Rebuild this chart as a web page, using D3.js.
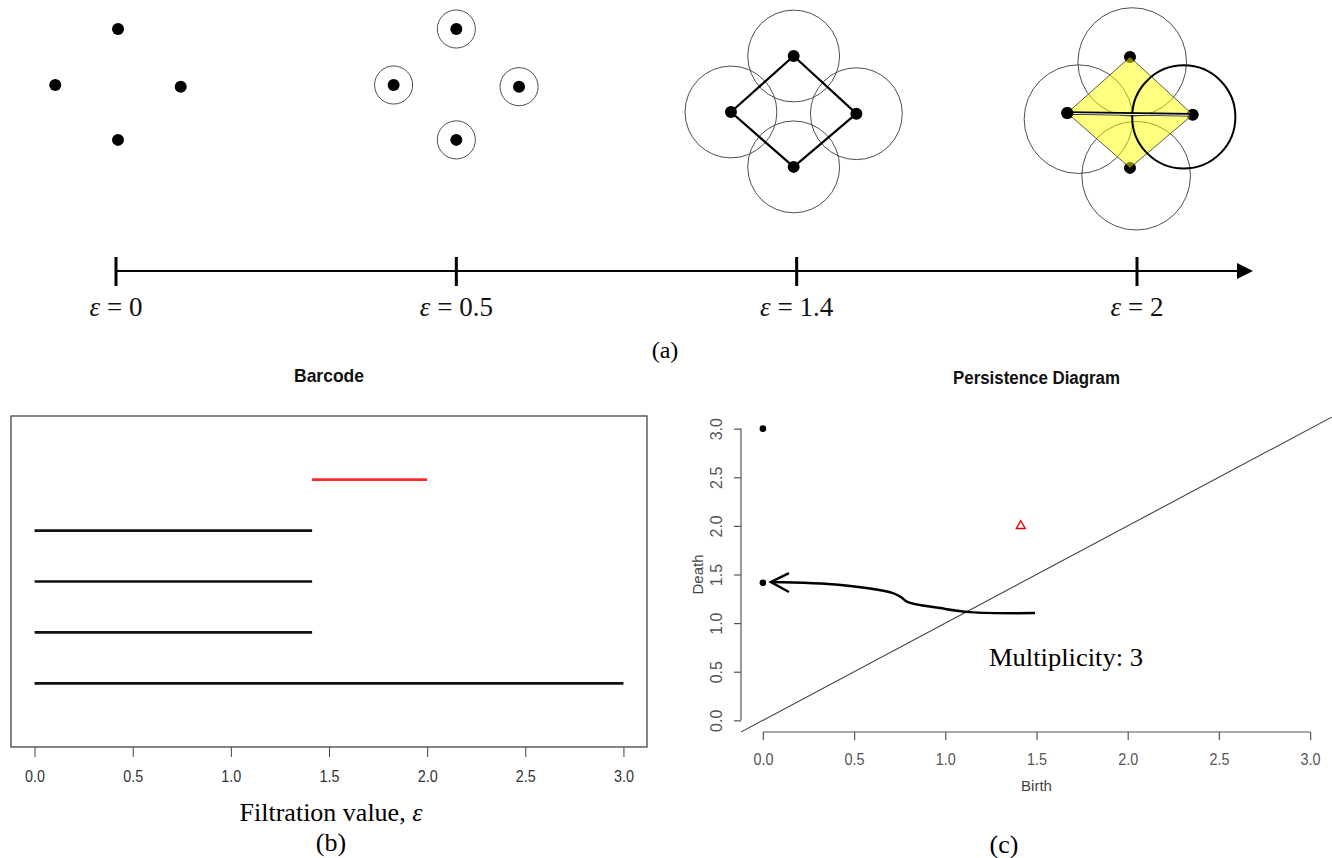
<!DOCTYPE html>
<html>
<head>
<meta charset="utf-8">
<script src="https://cdn.jsdelivr.net/npm/d3@7"></script>
<style>
  body { margin: 0; background: #fff; }
  svg { display: block; }
  .serif { font-family: "Liberation Serif", "Times New Roman", serif; }
  .sans { font-family: "Liberation Sans", Arial, sans-serif; }
</style>
</head>
<body>
<svg id="chart" width="1332" height="858"></svg>
<script>
// ---- (a) filtration of a 4 point cloud ----
const stageLabels = ["0", "0.5", "1.4", "2"];
const ballRadius = [0, 0.34, 0.82, 0.97];          // cloud units
// points: top, left, right, bottom (y up)
const cloudX = [0, -1.12, 1.12, 0];
const cloudY = [1, 0, -0.03, -0.98];
const loopEdges = [[0, 2], [2, 3], [3, 1], [1, 0]];
// at eps = 2 the balls sit a bit off their points
const lastBallShiftX = [0.04, 0.2, -0.16, 0.11];
const lastBallShiftY = [-0.09, -0.11, -0.04, -0.14];

// ---- (b) barcode ----
const barBirth = [0, 0, 0, 0, 1.414];
const barDeath = [3, 1.414, 1.414, 1.414, 2];
const barDim = [0, 0, 0, 0, 1];
const filtrationTicks = [0, 0.5, 1, 1.5, 2, 2.5, 3];

// ---- (c) persistence diagram ----
const pdBirth = [0, 0, 1.414];
const pdDeath = [3, 1.414, 2];
const pdDim = [0, 0, 1];
const pdTicks = [0, 0.5, 1, 1.5, 2, 2.5, 3];
// hand drawn arrow (birth, death)
const arrowBirth = [0.044, 0.428, 0.713, 0.757, 0.795, 0.971, 1.136, 1.492];
const arrowDeath = [1.423, 1.392, 1.309, 1.268, 1.216, 1.155, 1.113, 1.103];
const headBirth = [0.143, 0.044, 0.143];
const headDeath = [1.515, 1.423, 1.32];

const svg = d3.select("#chart");

// =============== (a) ===============
const epsX = d3.scalePoint().domain(stageLabels).range([116, 1137]);
const axisY = 271;
const unit = 56;
const cloudDX = [2, 0, -3, -7];
const cloudCY = [85, 85, 112, 113];
const ux = d3.scaleLinear().domain([-1, 1]).range([-unit, unit]);
const uy = d3.scaleLinear().domain([-1, 1]).range([unit, -unit]);
const pts = cloudX.map((x, k) => ({ x: x, y: cloudY[k] }));

stageLabels.forEach((lab, i) => {
  const g = svg.append("g")
    .attr("transform", `translate(${epsX(lab) + cloudDX[i]},${cloudCY[i]})`);
  const r = ballRadius[i] * unit;
  const last = i === stageLabels.length - 1;

  // balls (the bold one at eps=2 goes on top later)
  if (r > 0) {
    g.selectAll("circle.ball")
      .data(pts.filter((d, k) => !(last && k === 2)))
      .join("circle")
      .attr("class", "ball")
      .attr("cx", d => { const k = pts.indexOf(d); return ux(d.x + (last ? lastBallShiftX[k] : 0)); })
      .attr("cy", d => { const k = pts.indexOf(d); return uy(d.y + (last ? lastBallShiftY[k] : 0)); })
      .attr("r", r)
      .attr("fill", "none")
      .attr("stroke", "#3a3a3a")
      .attr("stroke-width", 0.9);
  }

  if (i === 2) {
    g.selectAll("line.edge").data(loopEdges).join("line")
      .attr("x1", e => ux(pts[e[0]].x)).attr("y1", e => uy(pts[e[0]].y))
      .attr("x2", e => ux(pts[e[1]].x)).attr("y2", e => uy(pts[e[1]].y))
      .attr("stroke", "#000").attr("stroke-width", 2.2);
  }

  g.selectAll("circle.pt").data(pts).join("circle")
    .attr("class", "pt")
    .attr("cx", d => ux(d.x)).attr("cy", d => uy(d.y))
    .attr("r", 6).attr("fill", "#000");

  if (last) {
    const order = [0, 2, 3, 1];
    g.append("polygon")
      .attr("points", order.map(k => [ux(pts[k].x), uy(pts[k].y)].join(",")).join(" "))
      .attr("fill", "rgb(255,255,0)").attr("fill-opacity", 0.5)
      .attr("stroke", "#333").attr("stroke-width", 0.8);
    g.append("circle")
      .attr("cx", ux(pts[1].x)).attr("cy", uy(pts[1].y)).attr("r", 6).attr("fill", "#000");
    const bold = 2;
    g.append("circle")
      .attr("cx", ux(pts[bold].x + lastBallShiftX[bold]))
      .attr("cy", uy(pts[bold].y + lastBallShiftY[bold]))
      .attr("r", r * 0.95)
      .attr("fill", "none").attr("stroke", "#000").attr("stroke-width", 2);
    g.append("line")
      .attr("x1", ux(pts[1].x)).attr("y1", uy(pts[1].y))
      .attr("x2", ux(pts[2].x)).attr("y2", uy(pts[2].y))
      .attr("stroke", "#000").attr("stroke-width", 3.4);
    g.append("line")
      .attr("x1", ux(pts[1].x) + 6).attr("y1", uy(pts[1].y) + 0.6)
      .attr("x2", ux(pts[2].x) - 4).attr("y2", uy(pts[2].y) + 0.6)
      .attr("stroke", "#fff").attr("stroke-width", 1);
  }
});

// filtration axis with arrow
const arrowEnd = epsX(stageLabels[stageLabels.length - 1]) + 116;
svg.append("line")
  .attr("x1", epsX.range()[0]).attr("x2", arrowEnd - 10)
  .attr("y1", axisY).attr("y2", axisY)
  .attr("stroke", "#000").attr("stroke-width", 2);
svg.append("path")
  .attr("d", `M${arrowEnd - 16},${axisY - 8} L${arrowEnd},${axisY} L${arrowEnd - 16},${axisY + 8} Z`)
  .attr("fill", "#000");
svg.selectAll("line.epsTick").data(stageLabels).join("line")
  .attr("class", "epsTick")
  .attr("x1", d => epsX(d)).attr("x2", d => epsX(d))
  .attr("y1", axisY - 14).attr("y2", axisY + 15)
  .attr("stroke", "#000").attr("stroke-width", 3);
const epsText = svg.selectAll("text.epsLab").data(stageLabels).join("text")
  .attr("class", "epsLab serif")
  .attr("x", d => epsX(d)).attr("y", 316)
  .attr("text-anchor", "middle")
  .attr("font-size", 27)
  .attr("fill", "#111");
epsText.append("tspan").attr("font-style", "italic").text("ε");
epsText.append("tspan").text(d => " = " + d);

svg.append("text").attr("class", "serif")
  .attr("x", 665).attr("y", 358).attr("text-anchor", "middle")
  .attr("font-size", 24).text("(a)");

// =============== (b) barcode ===============
const bx = d3.scaleLinear().domain([-0.12, 3.12]).range([11, 647]);
const by = d3.scaleLinear().domain([-1.25, 5.25]).range([747, 416]);

svg.append("rect")
  .attr("x", bx.range()[0]).attr("y", by.range()[1])
  .attr("width", bx.range()[1] - bx.range()[0])
  .attr("height", by.range()[0] - by.range()[1])
  .attr("fill", "none").attr("stroke", "#444").attr("stroke-width", 1.3);

svg.selectAll("line.bar").data(barBirth).join("line")
  .attr("class", "bar")
  .attr("x1", d => bx(d))
  .attr("x2", (d, i) => bx(barDeath[i]))
  .attr("y1", (d, i) => by(i)).attr("y2", (d, i) => by(i))
  .attr("stroke", (d, i) => barDim[i] === 1 ? "#ff2a2a" : "#111")
  .attr("stroke-width", 2.6);

const bAxis = svg.append("g")
  .attr("transform", `translate(0,${by.range()[0]})`)
  .call(d3.axisBottom(bx).tickValues(filtrationTicks)
    .tickFormat(d3.format(".1f")).tickSize(10).tickPadding(14));
bAxis.select(".domain").remove();
bAxis.selectAll("line").attr("stroke", "#444");
bAxis.selectAll("text").attr("class", "sans").attr("font-size", 16)
  .attr("textLength", 20).attr("lengthAdjust", "spacingAndGlyphs").attr("fill", "#333");

svg.append("text").attr("class", "sans")
  .attr("x", (bx.range()[0] + bx.range()[1]) / 2).attr("y", 382)
  .attr("text-anchor", "middle").attr("font-size", 19).attr("font-weight", "bold")
  .attr("textLength", 70).attr("lengthAdjust", "spacingAndGlyphs")
  .attr("fill", "#111").text("Barcode");

const fLab = svg.append("text").attr("class", "serif")
  .attr("x", 331).attr("y", 821).attr("text-anchor", "middle").attr("font-size", 26);
fLab.append("tspan").text("Filtration value, ");
fLab.append("tspan").attr("font-style", "italic").text("ε");

svg.append("text").attr("class", "serif")
  .attr("x", 331).attr("y", 851).attr("text-anchor", "middle")
  .attr("font-size", 26).text("(b)");

// =============== (c) persistence diagram ===============
const px = d3.scaleLinear().domain([-0.12, 3.12]).range([741, 1332]);
const py = d3.scaleLinear().domain([-0.12, 3.12]).range([732, 417]);

svg.append("clipPath").attr("id", "pdClip")
  .append("rect")
  .attr("x", px.range()[0]).attr("y", py.range()[1])
  .attr("width", px.range()[1] - px.range()[0])
  .attr("height", py.range()[0] - py.range()[1]);

svg.append("line")
  .attr("clip-path", "url(#pdClip)")
  .attr("x1", px(-0.12)).attr("y1", py(-0.12))
  .attr("x2", px(3.12)).attr("y2", py(3.12))
  .attr("stroke", "#444").attr("stroke-width", 1.1);

const xAx = svg.append("g")
  .attr("transform", `translate(0,${py.range()[0]})`)
  .call(d3.axisBottom(px).tickValues(pdTicks)
    .tickFormat(d3.format(".1f")).tickSize(8).tickPadding(14));
xAx.select(".domain").remove();
xAx.append("line").attr("x1", px(0)).attr("x2", px(3)).attr("stroke", "#555");
xAx.selectAll("line").attr("stroke", "#555").attr("stroke-width", 1.2);
xAx.selectAll("text").attr("class", "sans").attr("font-size", 16)
  .attr("textLength", 20).attr("lengthAdjust", "spacingAndGlyphs").attr("fill", "#555");

const yAx = svg.append("g")
  .attr("transform", `translate(${px.range()[0]},0)`)
  .call(d3.axisLeft(py).tickValues(pdTicks)
    .tickFormat(d3.format(".1f")).tickSize(7));
yAx.select(".domain").remove();
yAx.append("line").attr("y1", py(0)).attr("y2", py(3)).attr("stroke", "#555");
yAx.selectAll("line").attr("stroke", "#555").attr("stroke-width", 1.2);
yAx.selectAll("text")
  .attr("class", "sans").attr("font-size", 16).attr("fill", "#555")
  .attr("x", null).attr("dy", null)
  .attr("text-anchor", "middle")
  .attr("transform", "translate(-19,0) rotate(-90)");

svg.selectAll("circle.pd").data(pdBirth.filter((d, i) => pdDim[i] === 0)).join("circle")
  .attr("class", "pd")
  .attr("cx", d => px(d))
  .attr("cy", (d, i) => py(pdDeath[i]))
  .attr("r", 3.3).attr("fill", "#000");

svg.selectAll("path.pdTri").data(pdBirth.map((d, i) => i).filter(i => pdDim[i] === 1)).join("path")
  .attr("class", "pdTri")
  .attr("transform", i => `translate(${px(pdBirth[i])},${py(pdDeath[i])})`)
  .attr("d", d3.symbol(d3.symbolTriangle, 34)())
  .attr("fill", "none").attr("stroke", "#e00").attr("stroke-width", 1.4);

// arrow annotation
const arrowLine = d3.line().x(d => px(d[0])).y(d => py(d[1])).curve(d3.curveCatmullRom.alpha(0.5));
svg.append("path")
  .attr("d", arrowLine(arrowBirth.map((b, i) => [b, arrowDeath[i]])))
  .attr("fill", "none").attr("stroke", "#000").attr("stroke-width", 2.5);
svg.append("path")
  .attr("d", d3.line().x(d => px(d[0])).y(d => py(d[1]))(headBirth.map((b, i) => [b, headDeath[i]])))
  .attr("fill", "none").attr("stroke", "#000").attr("stroke-width", 2.5);

svg.append("text").attr("class", "serif")
  .attr("x", 1066).attr("y", 666).attr("text-anchor", "middle")
  .attr("font-size", 26).attr("textLength", 154).attr("lengthAdjust", "spacingAndGlyphs")
  .text("Multiplicity: 3");

svg.append("text").attr("class", "sans")
  .attr("x", (px.range()[0] + px.range()[1]) / 2).attr("y", 384)
  .attr("text-anchor", "middle").attr("font-size", 18).attr("font-weight", "bold")
  .attr("textLength", 167).attr("lengthAdjust", "spacingAndGlyphs")
  .attr("fill", "#111").text("Persistence Diagram");

svg.append("text").attr("class", "sans")
  .attr("x", (px.range()[0] + px.range()[1]) / 2).attr("y", 791)
  .attr("text-anchor", "middle").attr("font-size", 15).attr("fill", "#444").text("Birth");

svg.append("text").attr("class", "sans")
  .attr("transform", `translate(703,${(py.range()[0] + py.range()[1]) / 2}) rotate(-90)`)
  .attr("text-anchor", "middle").attr("font-size", 15).attr("fill", "#444").text("Death");

svg.append("text").attr("class", "serif")
  .attr("x", 1004).attr("y", 853).attr("text-anchor", "middle")
  .attr("font-size", 26).text("(c)");
</script>
</body>
</html>
